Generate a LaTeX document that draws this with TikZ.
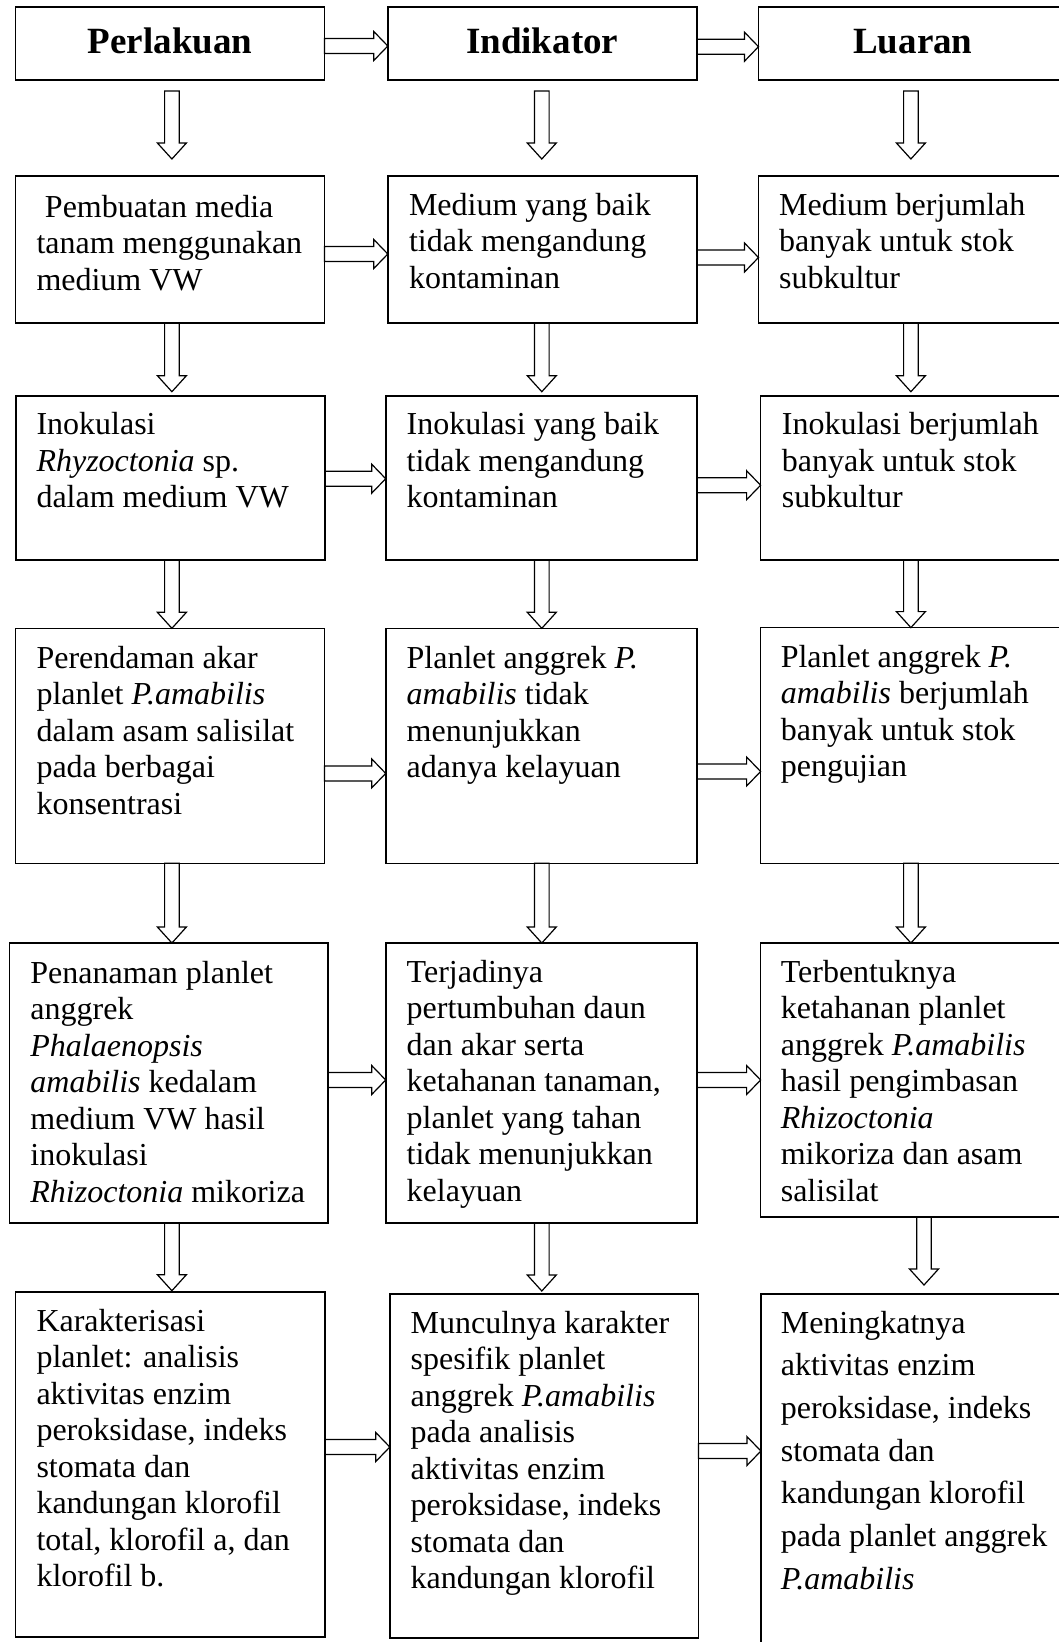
\documentclass[tikz,border=0pt]{standalone}
\usepackage{fontspec}
\setmainfont{Liberation Serif}
\usetikzlibrary{calc}
\newcommand{\boxat}[5]{%
  \node[boxst, minimum width={(#4)-(#2)}, minimum height={(#5)-(#3)}] (#1) at ({((#2)+(#4))/2},{((#3)+(#5))/2}) {};}
% lines of text whose baseline is the first line's
\newcommand{\mlines}[1]{\begin{tabular}[t]{@{}l@{}}#1\end{tabular}}
% horizontal block arrow from node #1 (east) to node #2 (west) at height #3
\newcommand{\harr}[3]{%
  \draw[arr] let \p1=(#1.east), \p2=(#2.west), \p3=(0,#3) in
    (\x1,\y3+7.5pt) -- (\x2-14pt,\y3+7.5pt) -- (\x2-14pt,\y3+14.5pt) -- (\x2,\y3)
    -- (\x2-14pt,\y3-14.5pt) -- (\x2-14pt,\y3-7.5pt) -- (\x1,\y3-7.5pt) -- cycle;}
% vertical block arrow from node #1 (south) to node #2 (north) at x #3, gaps #4, #5
\newcommand{\varr}[5]{%
  \draw[arr] let \p1=(#1.south), \p2=(#2.north), \p3=(#3,0) in
    (\x3-7.3pt,\y1-#4pt) -- (\x3-7.3pt,\y2+#5pt+16pt) -- (\x3-14.5pt,\y2+#5pt+16pt)
    -- (\x3,\y2+#5pt) -- (\x3+14.5pt,\y2+#5pt+16pt) -- (\x3+7.3pt,\y2+#5pt+16pt)
    -- (\x3+7.3pt,\y1-#4pt) -- cycle;}
\begin{document}
\begin{tikzpicture}[x=1pt,y=-1pt,
  boxst/.style={draw, line width=1.6pt, rectangle, inner sep=0pt, outer sep=0pt},
  arr/.style={draw, line width=1.2pt, line join=miter},
  txt/.style={inner sep=0pt, outer sep=0pt, anchor=base west, font=\fontsize{32}{36.5}\selectfont},
  wide/.style={font=\fontsize{32}{42.7}\selectfont},
  head/.style={inner sep=0pt, anchor=base, font=\fontsize{37}{40}\selectfont\bfseries}]
\clip (0,0) rectangle (1059,1642);
\fill[white] (0,0) rectangle (1059,1642);
% boxes
\boxat{p1}{15.6}{7}{324.5}{80}
\boxat{i1}{387.8}{7}{696.7}{80}
\boxat{l1}{758.5}{7}{1075}{80}
\boxat{p2}{15.6}{176}{324.5}{323}
\boxat{i2}{387.8}{176}{696.7}{323}
\boxat{l2}{758.5}{176}{1075}{323}
\boxat{p3}{16.2}{395.7}{325.2}{560.2}
\boxat{i3}{385.7}{395.7}{696.7}{560.2}
\boxat{l3}{760.6}{395.7}{1075}{560.2}
\boxat{p4}{15.6}{628.3}{324.5}{863.3}
\boxat{i4}{385.7}{628.3}{696.7}{863.3}
\boxat{l4}{760.6}{627.6}{1075}{863.3}
\boxat{p5}{9.5}{943}{327.9}{1223}
\boxat{i5}{385.7}{943}{696.7}{1223}
\boxat{l5}{760.6}{943}{1075}{1217}
\boxat{p6}{15.6}{1292}{325.2}{1637}
\boxat{i6}{389.8}{1294}{698.4}{1638}
\boxat{l6}{760.9}{1294}{1075}{1660}
% headers
\node[head] (p1t) at (170,53) {Perlakuan};
\node[head] (i1t) at (542.2,53) {Indikator};
\node[head] (l1t) at (912.9,53) {Luaran};
% texts
\node[txt] (p2t) at (36.5,217) {\mlines{\hspace*{8.5pt}Pembuatan media\\tanam menggunakan\\medium VW}};
\node[txt] (i2t) at (409,215) {\mlines{Medium yang baik\\tidak mengandung\\kontaminan}};
\node[txt] (l2t) at (779.2,215) {\mlines{Medium berjumlah\\banyak untuk stok\\subkultur}};
\node[txt] (p3t) at (36.5,434.7) {\mlines{Inokulasi\\\textit{Rhyzoctonia} sp.\\dalam medium VW}};
\node[txt] (i3t) at (406.7,434.7) {\mlines{Inokulasi yang baik\\tidak mengandung\\kontaminan}};
\node[txt] (l3t) at (781.9,434.7) {\mlines{Inokulasi berjumlah\\banyak untuk stok\\subkultur}};
\node[txt] (p4t) at (36.5,668.1) {\mlines{Perendaman akar\\planlet \textit{P.amabilis}\\dalam asam salisilat\\pada berbagai\\konsentrasi}};
\node[txt] (i4t) at (406.7,668) {\mlines{Planlet anggrek \textit{P.}\\\textit{amabilis} tidak\\menunjukkan\\adanya kelayuan}};
\node[txt] (l4t) at (780.8,667.4) {\mlines{Planlet anggrek \textit{P.}\\\textit{amabilis} berjumlah\\banyak untuk stok\\pengujian}};
\node[txt] (p5t) at (30.4,983) {\mlines{Penanaman planlet\\anggrek\\\textit{Phalaenopsis}\\\textit{amabilis} kedalam\\medium VW hasil\\inokulasi\\\textit{Rhizoctonia} mikoriza}};
\node[txt] (i5t) at (406.7,982) {\mlines{Terjadinya\\pertumbuhan daun\\dan akar serta\\ketahanan tanaman,\\planlet yang tahan\\tidak menunjukkan\\kelayuan}};
\node[txt] (l5t) at (780.8,982) {\mlines{Terbentuknya\\ketahanan planlet\\anggrek \textit{P.amabilis}\\hasil pengimbasan\\\textit{Rhizoctonia}\\mikoriza dan asam\\salisilat}};
\node[txt] (p6t) at (36.5,1331) {\mlines{Karakterisasi\\planlet: analisis\\aktivitas enzim\\peroksidase, indeks\\stomata dan\\kandungan klorofil\\total, klorofil a, dan\\klorofil b.}};
\node[txt] (i6t) at (410.7,1333) {\mlines{Munculnya karakter\\spesifik planlet\\anggrek \textit{P.amabilis}\\pada analisis\\aktivitas enzim\\peroksidase, indeks\\stomata dan\\kandungan klorofil}};
\node[txt,wide] (l6t) at (780.8,1333) {\mlines{Meningkatnya\\aktivitas enzim\\peroksidase, indeks\\stomata dan\\kandungan klorofil\\pada planlet anggrek\\\textit{P.amabilis}}};
% horizontal arrows
\harr{p1}{i1}{46}
\harr{i1}{l1}{46.7}
\harr{p2}{i2}{254}
\harr{i2}{l2}{257.5}
\harr{p3}{i3}{478.7}
\harr{i3}{l3}{485.2}
\harr{p4}{i4}{773.4}
\harr{i4}{l4}{771.5}
\harr{p5}{i5}{1080}
\harr{i5}{l5}{1080}
\harr{p6}{i6}{1447}
\harr{i6}{l6}{1451}
% vertical arrows
\varr{p1}{p2}{171.9}{11}{17}
\varr{i1}{i2}{541.8}{11}{17}
\varr{l1}{l2}{910.9}{11}{17}
\varr{p2}{p3}{171.9}{0}{4}
\varr{i2}{i3}{541.8}{0}{4}
\varr{l2}{l3}{910.9}{0}{4}
\varr{p3}{p4}{171.9}{0}{0}
\varr{i3}{i4}{541.8}{0}{0}
\varr{l3}{l4}{910.9}{0}{0}
\varr{p4}{p5}{171.9}{0}{0}
\varr{i4}{i5}{541.8}{0}{0}
\varr{l4}{l5}{910.9}{0}{0}
\varr{p5}{p6}{171.9}{0}{1.3}
\varr{i5}{i6}{541.8}{0}{3}
\varr{l5}{l6}{924}{0}{9}
\end{tikzpicture}
\end{document}
